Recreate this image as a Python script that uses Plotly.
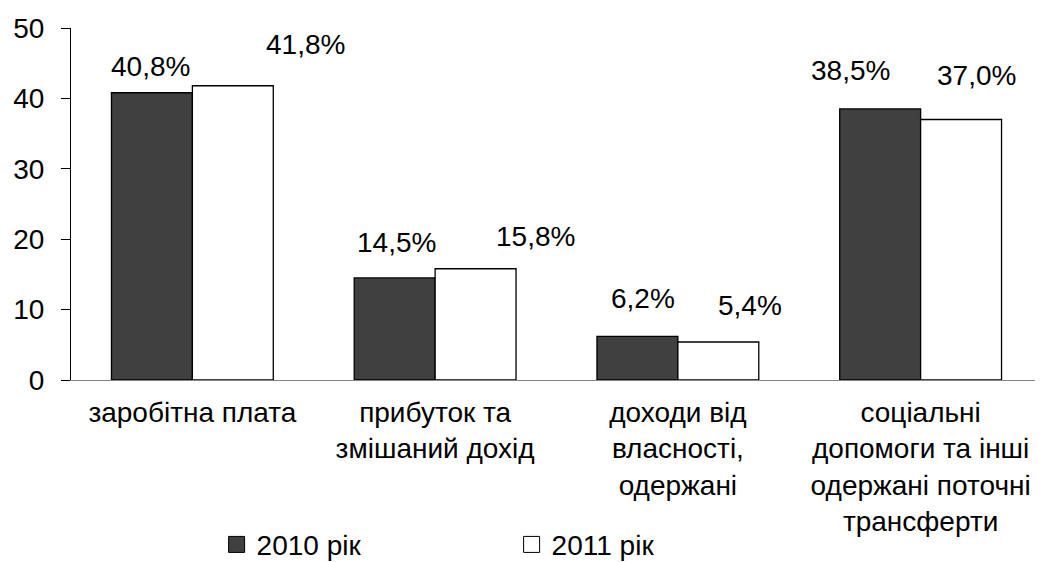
import plotly.graph_objects as go

categories = [
    "заробітна плата",
    "прибуток та<br>змішаний дохід",
    "доходи від<br>власності,<br>одержані",
    "соціальні<br>допомоги та інші<br>одержані поточні<br>трансферти",
]
series_names = ["2010 рік", "2011 рік"]
values_2010 = [40.8, 14.5, 6.2, 38.5]
values_2011 = [41.8, 15.8, 5.4, 37.0]
y_ticks = [0, 10, 20, 30, 40, 50]

# label offsets (px) to mimic the reference's label placement
shift_2010 = [(-1, 26), (2, 35), (6, 38), (-30, 38)]
shift_2011 = [(73, 41), (60, 32), (32, 36), (15, 44)]

FONT = "Arial, 'Liberation Sans', sans-serif"
DARK = "#404040"
x_idx = list(range(len(categories)))

fig = go.Figure()
fig.add_trace(go.Bar(x=x_idx, y=values_2010, name=series_names[0], showlegend=False,
                     marker=dict(color=DARK, line=dict(color="black", width=1.3))))
fig.add_trace(go.Bar(x=x_idx, y=values_2011, name=series_names[1], showlegend=False,
                     marker=dict(color="white", line=dict(color="black", width=1.3))))
# legend entries
for nm, col in zip(series_names, [DARK, "white"]):
    fig.add_trace(go.Scatter(x=[None], y=[None], mode="markers", name=nm,
                             marker=dict(symbol="square", size=16, color=col,
                                         line=dict(color="black", width=1))))

bargap = 1 / 3
half = (1 - bargap) / 4
def fmt(v):
    return f"{v:.1f}".replace(".", ",") + "%"

for i in x_idx:
    for vals, sh, off in [(values_2010, shift_2010, -half), (values_2011, shift_2011, half)]:
        fig.add_annotation(x=i + off, y=vals[i], text=fmt(vals[i]), showarrow=False,
                           xanchor="center", yanchor="middle",
                           xshift=sh[i][0], yshift=sh[i][1],
                           font=dict(family=FONT, size=28, color="black"))

fig.update_layout(
    template="none",
    width=1043, height=562,
    margin=dict(l=63, r=9, t=20, b=190, autoexpand=False),
    paper_bgcolor="white", plot_bgcolor="white",
    barmode="group", bargap=bargap, bargroupgap=0,
    font=dict(family=FONT, size=28, color="black"),
    showlegend=True,
    legend=dict(orientation="h", xref="container", yref="container",
                x=0.2, y=0.045, xanchor="left", yanchor="middle",
                font=dict(family=FONT, size=28, color="black"),
                entrywidth=250, itemsizing="trace", bgcolor="rgba(0,0,0,0)",
                borderwidth=0),
)
fig.update_xaxes(range=[-0.5, 3.5], tickvals=x_idx, ticktext=categories,
                 showline=True, linecolor="#868686", linewidth=1.2, automargin=False,
                 ticks="", showgrid=False, zeroline=False, tickangle=0,
                 ticklabelstandoff=7)
fig.update_yaxes(range=[0, 50], tickvals=y_ticks, showline=True, linecolor="black",
                 linewidth=1.2, ticks="outside", ticklen=9, tickcolor="black", automargin=False,
                 tickwidth=1.2, showgrid=False, zeroline=False, ticklabelstandoff=11)

fig.write_html("out.html")
